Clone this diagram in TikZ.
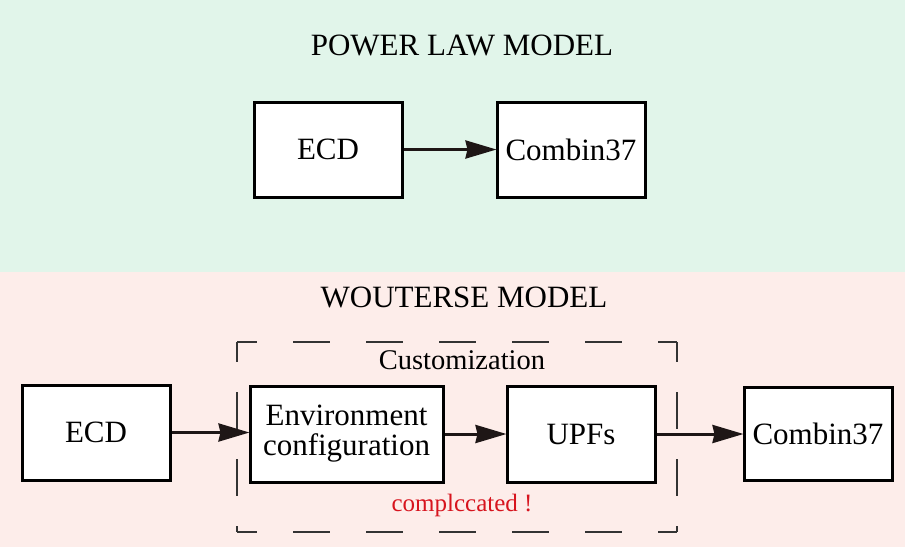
\documentclass[tikz,border=0pt]{standalone}
\usepackage{fontspec}
\setmainfont{Liberation Serif}
\usetikzlibrary{arrows.meta}
\definecolor{bggreen}{HTML}{E1F5EA}
\definecolor{bgpink}{HTML}{FDEDEA}
\definecolor{txred}{HTML}{D7141E}
\definecolor{arrk}{HTML}{1E1616}
\tikzset{
  box/.style={draw=black, fill=white, line width=3pt, inner sep=0pt, align=center,
    font=\fontsize{31}{32}\selectfont},
  title/.style={font=\fontsize{31}{33}\selectfont, inner sep=0pt},
  conn/.style={line width=3pt, draw=arrk, -{Stealth[length=31pt,width=18pt,inset=2pt]}, shorten >=-1pt},
  dashside/.style={line width=2pt, draw=black!80, dash pattern=on 37pt off 36pt, dash phase=17pt}
}
\begin{document}
\begin{tikzpicture}[x=1pt,y=-1pt]
\useasboundingbox (0,0) rectangle (905,547);
\fill[bggreen] (0,0) rectangle (905,272);
\fill[bgpink] (0,272) rectangle (905,547);

\node[title] (t1) at (462,45) {POWER LAW MODEL};
\node[title] (t2) at (464,297) {WOUTERSE MODEL};

% top
\node[box, minimum width=148pt, minimum height=95pt] (ecd1) at (328,149.5) {ECD};
\node[box, minimum width=148pt, minimum height=95pt] (comb1) at (571,149.5) {Combin37};
\draw[conn] (ecd1) -- (comb1);

% dashed customization frame
\coordinate (dA) at (237,342);
\coordinate (dB) at (677,342);
\coordinate (dC) at (677,532);
\coordinate (dD) at (237,532);
\draw[dashside] (dA) -- (dB);
\draw[dashside] (dD) -- (dC);
\draw[dashside, dash pattern=on 37pt off 30pt] (dA) -- (dD);
\draw[dashside, dash pattern=on 37pt off 30pt] (dB) -- (dC);
\node[font=\fontsize{28.5}{30}\selectfont, inner sep=0pt] (cust) at (462,360) {Customization};
\node[font=\fontsize{25}{27}\selectfont, text=txred, inner sep=0pt] (comp) at (462,505) {complccated !};

% bottom
\node[box, minimum width=148pt, minimum height=95pt] (ecd2) at (96,432.5) {ECD};
\node[box, minimum width=193pt, minimum height=96pt] (env) at (346.5,434) {Environment\\[-2pt]configuration};
\node[box, minimum width=148pt, minimum height=96pt] (upf) at (581,434) {UPFs};
\node[box, minimum width=148pt, minimum height=93pt] (comb2) at (818,433.5) {Combin37};
\draw[conn] (ecd2.east) -- (ecd2.east -| env.west);
\draw[conn] (env) -- (upf);
\draw[conn] (upf.east) -- (upf.east -| comb2.west);
\end{tikzpicture}
\end{document}
